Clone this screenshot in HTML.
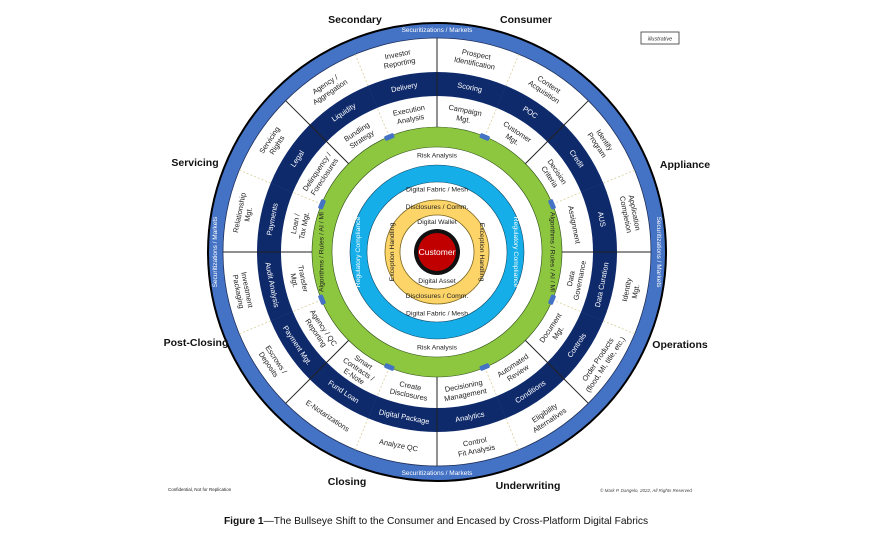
<!DOCTYPE html>
<html><head><meta charset="utf-8"><style>
html,body{margin:0;padding:0;background:#fff;}
svg{display:block;font-family:"Liberation Sans",sans-serif;}
.t{font-size:7.4px;fill:#222;text-anchor:middle;dominant-baseline:central;}
.w{font-size:7.4px;fill:#fff;text-anchor:middle;dominant-baseline:central;}
.s{font-size:6.5px;fill:#fff;text-anchor:middle;dominant-baseline:central;}
.h{font-size:10.5px;font-weight:bold;fill:#111;text-anchor:middle;}
.sol{stroke:#222;stroke-width:1;}
.das{stroke:#d9cf9a;stroke-width:0.8;stroke-dasharray:2 2;}
</style></head><body>
<svg width="872" height="534" viewBox="0 0 872 534" xmlns="http://www.w3.org/2000/svg">
<rect width="872" height="534" fill="#fff"/>
<g transform="translate(437,252)">
<circle r="229" fill="#4472c4" stroke="#000" stroke-width="2"/>
<circle r="214" fill="#fff" stroke="#1f2f5a" stroke-width="0.8"/>
<circle r="180" fill="#0f2a6b"/>
<circle r="156" fill="#fff"/>
<circle r="125" fill="#8dc63f" stroke="#2d4f1a" stroke-width="0.6"/>
<circle r="105" fill="#fff" stroke="#2d4f1a" stroke-width="0.6"/>
<circle r="87" fill="#16aee8" stroke="#124a66" stroke-width="0.6"/>
<circle r="70" fill="#fff" stroke="#124a66" stroke-width="0.6"/>
<circle r="52" fill="#fcd468" stroke="#7a6420" stroke-width="0.8"/>
<circle r="37" fill="#fff" stroke="#7a6420" stroke-width="0.8"/>
<circle r="23" fill="#111"/>
<circle r="19" fill="#c00000"/>
<text class="w" y="0" style="font-size:8.5px">Customer</text>

<g class="sol">
<line x1="0" y1="-125" x2="0" y2="-214" transform="rotate(0)"/>
<line x1="0" y1="-125" x2="0" y2="-214" transform="rotate(45)"/>
<line x1="0" y1="-125" x2="0" y2="-214" transform="rotate(90)"/>
<line x1="0" y1="-125" x2="0" y2="-214" transform="rotate(135)"/>
<line x1="0" y1="-125" x2="0" y2="-214" transform="rotate(180)"/>
<line x1="0" y1="-125" x2="0" y2="-214" transform="rotate(225)"/>
<line x1="0" y1="-125" x2="0" y2="-214" transform="rotate(270)"/>
<line x1="0" y1="-125" x2="0" y2="-214" transform="rotate(315)"/>
</g>
<g class="das">
<line x1="0" y1="-125" x2="0" y2="-156" transform="rotate(22.5)"/><line x1="0" y1="-180" x2="0" y2="-214" transform="rotate(22.5)"/>
<line x1="0" y1="-125" x2="0" y2="-156" transform="rotate(67.5)"/><line x1="0" y1="-180" x2="0" y2="-214" transform="rotate(67.5)"/>
<line x1="0" y1="-125" x2="0" y2="-156" transform="rotate(112.5)"/><line x1="0" y1="-180" x2="0" y2="-214" transform="rotate(112.5)"/>
<line x1="0" y1="-125" x2="0" y2="-156" transform="rotate(157.5)"/><line x1="0" y1="-180" x2="0" y2="-214" transform="rotate(157.5)"/>
<line x1="0" y1="-125" x2="0" y2="-156" transform="rotate(202.5)"/><line x1="0" y1="-180" x2="0" y2="-214" transform="rotate(202.5)"/>
<line x1="0" y1="-125" x2="0" y2="-156" transform="rotate(247.5)"/><line x1="0" y1="-180" x2="0" y2="-214" transform="rotate(247.5)"/>
<line x1="0" y1="-125" x2="0" y2="-156" transform="rotate(292.5)"/><line x1="0" y1="-180" x2="0" y2="-214" transform="rotate(292.5)"/>
<line x1="0" y1="-125" x2="0" y2="-156" transform="rotate(337.5)"/><line x1="0" y1="-180" x2="0" y2="-214" transform="rotate(337.5)"/>
</g>
<g stroke="#1f3a7a" stroke-width="0.6" opacity="0.7">
<line x1="0" y1="-156" x2="0" y2="-180" transform="rotate(22.5)"/>
<line x1="0" y1="-156" x2="0" y2="-180" transform="rotate(67.5)"/>
<line x1="0" y1="-156" x2="0" y2="-180" transform="rotate(112.5)"/>
<line x1="0" y1="-156" x2="0" y2="-180" transform="rotate(157.5)"/>
<line x1="0" y1="-156" x2="0" y2="-180" transform="rotate(202.5)"/>
<line x1="0" y1="-156" x2="0" y2="-180" transform="rotate(247.5)"/>
<line x1="0" y1="-156" x2="0" y2="-180" transform="rotate(292.5)"/>
<line x1="0" y1="-156" x2="0" y2="-180" transform="rotate(337.5)"/>
</g>

<g fill="#4472c4">
<rect x="-5" y="-127" width="10" height="5" rx="1.5" transform="rotate(22.5)"/>
<rect x="-5" y="-127" width="10" height="5" rx="1.5" transform="rotate(67.5)"/>
<rect x="-5" y="-127" width="10" height="5" rx="1.5" transform="rotate(112.5)"/>
<rect x="-5" y="-127" width="10" height="5" rx="1.5" transform="rotate(157.5)"/>
<rect x="-5" y="-127" width="10" height="5" rx="1.5" transform="rotate(202.5)"/>
<rect x="-5" y="-127" width="10" height="5" rx="1.5" transform="rotate(247.5)"/>
<rect x="-5" y="-127" width="10" height="5" rx="1.5" transform="rotate(292.5)"/>
<rect x="-5" y="-127" width="10" height="5" rx="1.5" transform="rotate(337.5)"/>
</g>

<text class="s" y="-221.5">Securitizations / Markets</text>
<text class="s" y="221.5">Securitizations / Markets</text>
<text class="s" y="-221.5" transform="rotate(-90)">Securitizations / Markets</text>
<text class="s" y="-221.5" transform="rotate(90)">Securitizations / Markets</text>

<text class="t" transform="rotate(11.25)"><tspan x="0" y="-202">Prospect</tspan><tspan x="0" y="-193">Identification</tspan></text>
<text class="t" transform="rotate(33.75)"><tspan x="0" y="-202">Content</tspan><tspan x="0" y="-193">Acquisition</tspan></text>
<text class="t" transform="rotate(56.25)"><tspan x="0" y="-202">Identify</tspan><tspan x="0" y="-193">Program</tspan></text>
<text class="t" transform="rotate(78.75)"><tspan x="0" y="-202">Application</tspan><tspan x="0" y="-193">Completion</tspan></text>
<text class="t" transform="rotate(-78.75)"><tspan x="0" y="-202">Relationship</tspan><tspan x="0" y="-193">Mgt.</tspan></text>
<text class="t" transform="rotate(-56.25)"><tspan x="0" y="-202">Servicing</tspan><tspan x="0" y="-193">Rights</tspan></text>
<text class="t" transform="rotate(-33.75)"><tspan x="0" y="-202">Agency /</tspan><tspan x="0" y="-193">Aggregation</tspan></text>
<text class="t" transform="rotate(-11.25)"><tspan x="0" y="-202">Investor</tspan><tspan x="0" y="-193">Reporting</tspan></text>
<text class="t" transform="rotate(-78.75)"><tspan x="0" y="193">Identity</tspan><tspan x="0" y="202">Mgt.</tspan></text>
<text class="t" transform="rotate(-56.25)"><tspan x="0" y="193">Order Products</tspan><tspan x="0" y="202">(flood, MI, title, etc.)</tspan></text>
<text class="t" transform="rotate(-33.75)"><tspan x="0" y="193">Eligibility</tspan><tspan x="0" y="202">Alternatives</tspan></text>
<text class="t" transform="rotate(-11.25)"><tspan x="0" y="193">Control</tspan><tspan x="0" y="202">Fit Analysis</tspan></text>
<text class="t" transform="rotate(11.25)" y="197">Analyze QC</text>
<text class="t" transform="rotate(33.75)" y="197">E-Notarizations</text>
<text class="t" transform="rotate(56.25)"><tspan x="0" y="193">Escrows /</tspan><tspan x="0" y="202">Deposits</tspan></text>
<text class="t" transform="rotate(78.75)"><tspan x="0" y="193">Investment</tspan><tspan x="0" y="202">Packaging</tspan></text>

<text class="w" transform="rotate(11.25)" y="-168">Scoring</text>
<text class="w" transform="rotate(33.75)" y="-168">POC</text>
<text class="w" transform="rotate(56.25)" y="-168">Credit</text>
<text class="w" transform="rotate(78.75)" y="-168">AUS</text>
<text class="w" transform="rotate(-78.75)" y="-168">Payments</text>
<text class="w" transform="rotate(-56.25)" y="-168">Legal</text>
<text class="w" transform="rotate(-33.75)" y="-168">Liquidity</text>
<text class="w" transform="rotate(-11.25)" y="-168">Delivery</text>
<text class="w" transform="rotate(-78.75)" y="168">Data Curation</text>
<text class="w" transform="rotate(-56.25)" y="168">Controls</text>
<text class="w" transform="rotate(-33.75)" y="168">Conditions</text>
<text class="w" transform="rotate(-11.25)" y="168">Analytics</text>
<text class="w" transform="rotate(11.25)" y="168">Digital Package</text>
<text class="w" transform="rotate(33.75)" y="168">Fund Loan</text>
<text class="w" transform="rotate(56.25)" y="168">Payment Mgt.</text>
<text class="w" transform="rotate(78.75)" y="168">Audit Analysis</text>

<text class="t" transform="rotate(11.25)"><tspan x="0" y="-145">Campaign</tspan><tspan x="0" y="-136">Mgt.</tspan></text>
<text class="t" transform="rotate(33.75)"><tspan x="0" y="-145">Customer</tspan><tspan x="0" y="-136">Mgt.</tspan></text>
<text class="t" transform="rotate(56.25)"><tspan x="0" y="-145">Decision</tspan><tspan x="0" y="-136">Criteria</tspan></text>
<text class="t" transform="rotate(78.75)" y="-140">Assignment</text>
<text class="t" transform="rotate(-78.75)"><tspan x="0" y="-145">Loan /</tspan><tspan x="0" y="-136">Tax Mgt.</tspan></text>
<text class="t" transform="rotate(-56.25)"><tspan x="0" y="-145">Delinquency /</tspan><tspan x="0" y="-136">Foreclosures</tspan></text>
<text class="t" transform="rotate(-33.75)"><tspan x="0" y="-145">Bundling</tspan><tspan x="0" y="-136">Strategy</tspan></text>
<text class="t" transform="rotate(-11.25)"><tspan x="0" y="-145">Execution</tspan><tspan x="0" y="-136">Analysis</tspan></text>
<text class="t" transform="rotate(-78.75)"><tspan x="0" y="136">Data</tspan><tspan x="0" y="145">Governance</tspan></text>
<text class="t" transform="rotate(-56.25)"><tspan x="0" y="136">Document</tspan><tspan x="0" y="145">Mgt.</tspan></text>
<text class="t" transform="rotate(-33.75)"><tspan x="0" y="136">Automated</tspan><tspan x="0" y="145">Review</tspan></text>
<text class="t" transform="rotate(-11.25)"><tspan x="0" y="136">Decisioning</tspan><tspan x="0" y="145">Management</tspan></text>
<text class="t" transform="rotate(11.25)"><tspan x="0" y="136">Create</tspan><tspan x="0" y="145">Disclosures</tspan></text>
<text class="t" transform="rotate(33.75)"><tspan x="0" y="132">Smart</tspan><tspan x="0" y="140.5">Contracts /</tspan><tspan x="0" y="149">E-Note</tspan></text>
<text class="t" transform="rotate(56.25)"><tspan x="0" y="136">Agency / QC</tspan><tspan x="0" y="145">Reporting</tspan></text>
<text class="t" transform="rotate(78.75)"><tspan x="0" y="136">Transfer</tspan><tspan x="0" y="145">Mgt.</tspan></text>

<text class="t" style="font-size:6.8px" transform="rotate(-90)" y="-115">Algorithms / Rules / AI / MI</text>
<text class="t" style="font-size:6.8px" transform="rotate(90)" y="-115">Algorithms / Rules / AI / MI</text>
<text class="t" style="font-size:6.8px" y="-96">Risk Analysis</text>
<text class="t" style="font-size:6.8px" y="96">Risk Analysis</text>
<text class="w" style="font-size:6.8px" transform="rotate(-90)" y="-78.5">Regulatory Compliance</text>
<text class="w" style="font-size:6.8px" transform="rotate(90)" y="-78.5">Regulatory Compliance</text>
<text class="t" style="font-size:6.8px" y="-62">Digital Fabric / Mesh</text>
<text class="t" style="font-size:6.8px" y="62">Digital Fabric / Mesh</text>
<text class="t" style="font-size:6.8px" y="-44.5">Disclosures / Comm.</text>
<text class="t" style="font-size:6.8px" y="44.5">Disclosures / Comm.</text>
<text class="t" style="font-size:6.8px" transform="rotate(-90)" y="-44.5">Exception Handling</text>
<text class="t" style="font-size:6.8px" transform="rotate(90)" y="-44.5">Exception Handling</text>
<text class="t" style="font-size:6.8px" y="-29.5">Digital Wallet</text>
<text class="t" style="font-size:6.8px" y="29.5">Digital Asset</text>
</g>

<text class="h" x="355" y="23">Secondary</text>
<text class="h" x="526" y="23">Consumer</text>
<text class="h" x="685" y="168">Appliance</text>
<text class="h" x="680" y="348">Operations</text>
<text class="h" x="528" y="489">Underwriting</text>
<text class="h" x="347" y="485">Closing</text>
<text class="h" x="196" y="346">Post-Closing</text>
<text class="h" x="195" y="166">Servicing</text>

<rect x="641" y="32" width="38" height="12" fill="#fff" stroke="#333" stroke-width="0.8"/>
<text x="660" y="40.5" style="font-size:5.5px;font-style:italic;fill:#333;text-anchor:middle">illustrative</text>
<text x="168" y="491" style="font-size:4.5px;fill:#222">Confidential, Not for Replication</text>
<text x="600" y="492" style="font-size:4.5px;font-style:italic;fill:#444">© Mark P. Dangelo, 2022, All Rights Reserved</text>
<text x="436" y="524" style="font-size:10.2px;fill:#111;text-anchor:middle"><tspan font-weight="bold">Figure 1</tspan>—The Bullseye Shift to the Consumer and Encased by Cross-Platform Digital Fabrics</text>
</svg>
</body></html>
